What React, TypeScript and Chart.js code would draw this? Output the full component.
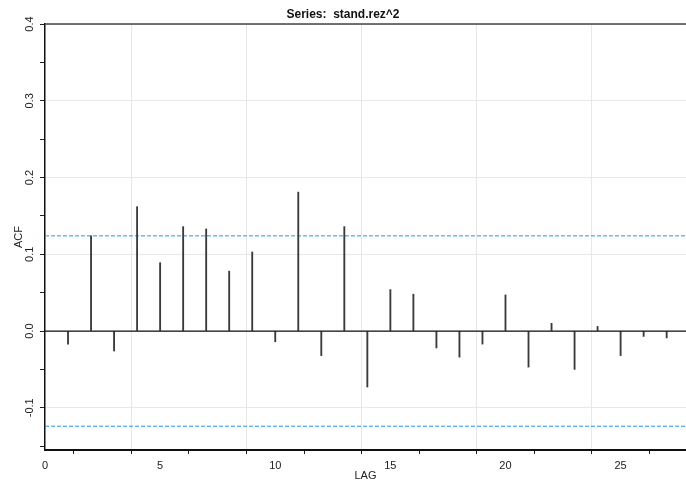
import React, { useEffect, useRef } from "react";
import { Chart, registerables } from "chart.js";

Chart.register(...registerables);

// ---- Data ----
const lags = [1, 2, 3, 4, 5, 6, 7, 8, 9, 10, 11, 12, 13, 14, 15, 16, 17, 18, 19, 20, 21, 22, 23, 24, 25, 26, 27];
const acfValues = [
  -0.017, 0.124, -0.026, 0.162, 0.089, 0.136, 0.133, 0.078, 0.103, -0.014,
  0.181, -0.032, 0.136, -0.073, 0.054, 0.048, -0.022, -0.034, -0.017, 0.047,
  -0.047, 0.010, -0.050, 0.006, -0.032, -0.007, -0.009,
];
const ciBound = 0.124;
const xRange = [0, 27.84];
const yRange = [-0.155, 0.4];
const xTicks = [0, 2.5, 5, 7.5, 10, 12.5, 15, 17.5, 20, 22.5, 25, 27.5];
const xTickLabels = ["0", "", "5", "", "10", "", "15", "", "20", "", "25", ""];
const yTicks = [-0.15, -0.1, -0.05, 0, 0.05, 0.1, 0.15, 0.2, 0.25, 0.3, 0.35, 0.4];
const yTickLabels = ["", "-0.1", "", "0.0", "", "0.1", "", "0.2", "", "0.3", "", "0.4"];
const titleText = "Series:  stand.rez^2";
const xTitle = "LAG";
const yTitle = "ACF";

const FONT = "'Liberation Sans', Arial, Helvetica, sans-serif";

const topLinePlugin = {
  id: "topLine",
  afterDraw(chart: any) {
    const { ctx, chartArea } = chart;
    ctx.save();
    ctx.strokeStyle = "#444";
    ctx.lineWidth = 1.5;
    ctx.beginPath();
    ctx.moveTo(chartArea.left, chartArea.top);
    ctx.lineTo(chartArea.right, chartArea.top);
    ctx.stroke();
    ctx.restore();
  },
};

export default function App() {
  const canvasRef = useRef<HTMLCanvasElement | null>(null);

  useEffect(() => {
    if (!canvasRef.current) return;
    const chart = new Chart(canvasRef.current, {
      type: "bar",
      data: {
        datasets: [
          {
            type: "line",
            data: [{ x: xRange[0], y: 0 }, { x: xRange[1], y: 0 }],
            borderColor: "#111",
            borderWidth: 1.2,
            pointRadius: 0,
            order: 0,
          } as any,
          {
            type: "bar",
            data: lags.map((l, i) => ({ x: l, y: acfValues[i] })),
            backgroundColor: "#3a3a3a",
            borderWidth: 0,
            barThickness: 1.2,
            grouped: false,
            order: 1,
          } as any,
          {
            type: "line",
            data: [{ x: xRange[0], y: ciBound }, { x: xRange[1], y: ciBound }],
            borderColor: "#2297E6",
            borderWidth: 1,
            borderDash: [4, 2],
            pointRadius: 0,
            order: 2,
          } as any,
          {
            type: "line",
            data: [{ x: xRange[0], y: -ciBound }, { x: xRange[1], y: -ciBound }],
            borderColor: "#2297E6",
            borderWidth: 1,
            borderDash: [4, 2],
            pointRadius: 0,
            order: 2,
          } as any,
        ],
      },
      options: {
        animation: false,
        responsive: false,
        devicePixelRatio: 1,
        layout: { padding: 0 },
        plugins: {
          legend: { display: false },
          tooltip: { enabled: false },
          title: {
            display: true,
            text: titleText,
            color: "#111",
            font: { family: FONT, size: 12, weight: "bold" },
            padding: { top: 7, bottom: 2.6 },
          },
        },
        scales: {
          x: {
            type: "linear",
            min: xRange[0],
            max: xRange[1],
            offset: false,
            afterBuildTicks: (scale: any) => {
              scale.ticks = xTicks.map((v) => ({ value: v }));
            },
            afterFit: (scale: any) => {
              scale.height = 33;
            },
            ticks: {
              autoSkip: false,
              maxRotation: 0,
              minRotation: 0,
              padding: 5,
              color: "#222",
              font: { family: FONT, size: 11 },
              callback: (_v: any, i: number) => xTickLabels[i],
            },
            grid: {
              color: (c: any) => (xTickLabels[c.index] ? "#e8e8e8" : "rgba(0,0,0,0)"),
              lineWidth: 1,
              tickColor: "#222",
              tickLength: 4,
              drawTicks: true,
            },
            border: { display: true, color: "#111", width: 2 },
            title: {
              display: true,
              text: xTitle,
              color: "#222",
              font: { family: FONT, size: 11 },
              padding: { top: 0, bottom: 0 },
            },
          },
          y: {
            type: "linear",
            min: yRange[0],
            max: yRange[1],
            afterBuildTicks: (scale: any) => {
              scale.ticks = yTicks.map((v) => ({ value: v }));
            },
            afterFit: (scale: any) => {
              scale.width = 45;
            },
            ticks: {
              autoSkip: false,
              minRotation: 90,
              maxRotation: 90,
              crossAlign: "center",
              padding: 1,
              color: "#222",
              font: { family: FONT, size: 11 },
              callback: (_v: any, i: number) => yTickLabels[i],
            },
            grid: {
              color: (c: any) => (yTickLabels[c.index] ? "#e8e8e8" : "rgba(0,0,0,0)"),
              lineWidth: 1,
              tickColor: "#222",
              tickLength: 5,
              drawTicks: true,
            },
            border: { display: true, color: "#111", width: 1.5 },
            title: {
              display: true,
              text: yTitle,
              color: "#222",
              font: { family: FONT, size: 11 },
              padding: { top: 12, bottom: 0 },
            },
          },
        },
      },
      plugins: [topLinePlugin],
    } as any);
    return () => chart.destroy();
  }, []);

  return (
    <div style={{ position: "absolute", left: 0, top: 0, width: 686, height: 483, background: "#fff" }}>
      <canvas ref={canvasRef} width={686} height={483} style={{ display: "block" }} />
    </div>
  );
}
